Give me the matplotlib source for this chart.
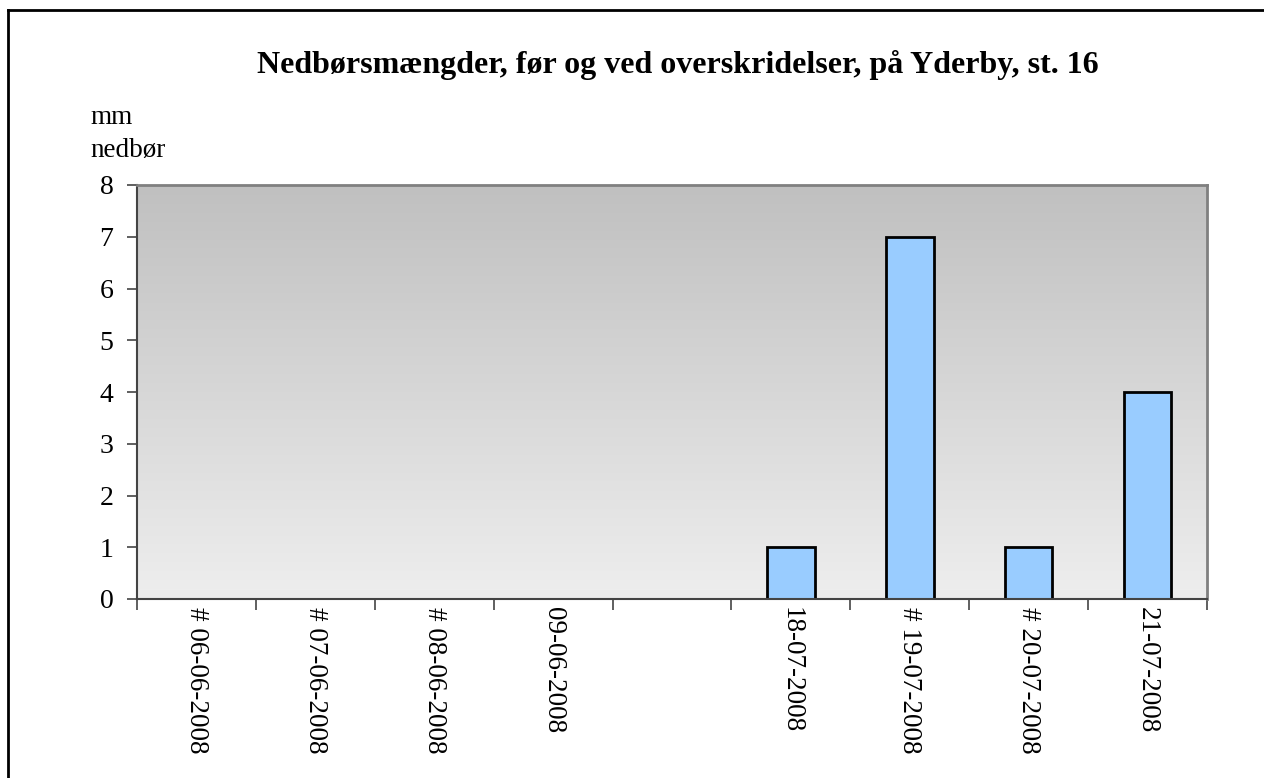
import numpy as np
import matplotlib.pyplot as plt
from matplotlib.lines import Line2D

categories = ["# 06-06-2008", "# 07-06-2008", "# 08-06-2008", "09-06-2008", "",
              "18-07-2008", "# 19-07-2008", "# 20-07-2008", "21-07-2008"]
values = [0, 0, 0, 0, 0, 1, 7, 1, 4]
yticks = [0, 1, 2, 3, 4, 5, 6, 7, 8]

plt.rcParams["font.family"] = ["Liberation Serif", "DejaVu Serif"]

fig = plt.figure(figsize=(12.64, 7.78), dpi=100)
ax = fig.add_axes([137 / 1264, 1 - 599 / 778, 1070 / 1264, 414 / 778])

# gradient background
grad = np.linspace(238, 192, 256).reshape(-1, 1) / 255.0
ax.imshow(np.dstack([grad, grad, grad]), extent=[0, 1, 0, 1], transform=ax.transAxes,
          aspect="auto", origin="lower", zorder=0)

x = np.arange(len(categories))
ax.bar(x, values, width=0.4, color="#99ccff", edgecolor="black", linewidth=2, zorder=2)

ax.set_xlim(-0.5, len(categories) - 0.5)
ax.set_ylim(0, 8)
ax.set_yticks(yticks)
ax.set_yticklabels([str(v) for v in yticks], fontsize=20)
ax.set_xticks(x)
ax.set_xticklabels(categories, rotation=-90, fontsize=19.5, va="top", ha="center")
ax.tick_params(axis="x", length=0, pad=6)
ax.set_xticks(np.arange(len(categories) + 1) - 0.5, minor=True)
ax.tick_params(axis="x", which="minor", length=8, width=1.2, color="#444444")
ax.tick_params(axis="y", length=7, width=1.2, color="#444444", pad=10)

for side in ["top", "right"]:
    ax.spines[side].set_color("#808080")
    ax.spines[side].set_linewidth(2)
for side in ["left", "bottom"]:
    ax.spines[side].set_color("#444444")
    ax.spines[side].set_linewidth(1.5)

fig.text(678 / 1264, 1 - 65 / 778, "Nedbørsmængder, før og ved overskridelser, på Yderby, st. 16",
         ha="center", va="center", fontsize=23, fontweight="bold")
fig.text(90 / 1264, 1 - 134 / 778, "mm\nnedbør", ha="left", va="center", fontsize=19.5,
         linespacing=1.4)

# outer frame (left and top edges visible)
fig.add_artist(Line2D([8 / 1264, 8 / 1264], [0, 1 - 10 / 778], color="black", lw=2,
                      transform=fig.transFigure))
fig.add_artist(Line2D([8 / 1264, 1], [1 - 10 / 778, 1 - 10 / 778], color="black", lw=2,
                      transform=fig.transFigure))

fig.savefig("out.png", dpi=100)
